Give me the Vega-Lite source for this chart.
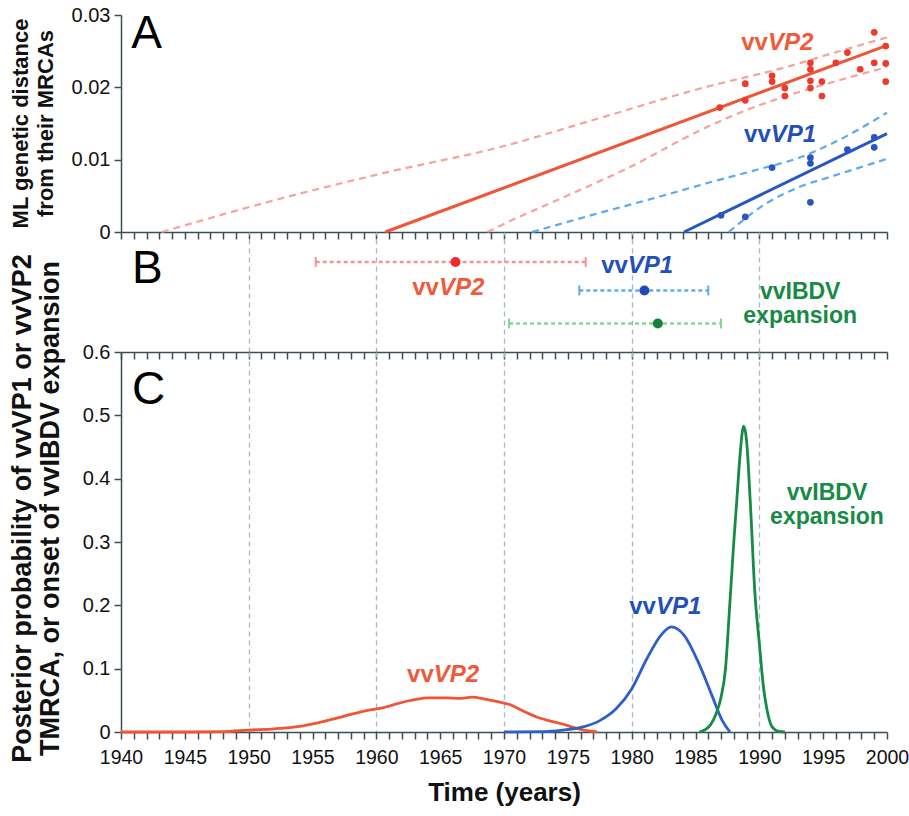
{
  "$schema": "https://vega.github.io/schema/vega-lite/v6.json",
  "padding": {"left": 7, "top": 5, "right": 2, "bottom": 5},
  "bounds": "flush",
  "spacing": 0,
  "config": {
    "view": {"stroke": null},
    "font": "Liberation Sans",
    "axis": {
      "domainColor": "#3b4e58", "tickColor": "#3b4e58", "domainWidth": 1.5, "tickWidth": 1.5, "ticks": true, "tickOpacity": 1,
      "labelFont": "Liberation Sans", "labelFontSize": 20, "labelColor": "#111111", "labelFlush": false, "labelOverlap": false,
      "titleFont": "Liberation Sans", "titleColor": "#111111", "grid": false
    },
    "text": {"font": "Liberation Sans"}
  },
  "datasets": {
    "ptsA": [
      {"series":"vvVP2","year":1986.9,"d":0.0172},{"series":"vvVP2","year":1988.9,"d":0.0205},{"series":"vvVP2","year":1988.9,"d":0.0182},
      {"series":"vvVP2","year":1991,"d":0.0216},{"series":"vvVP2","year":1991,"d":0.0208},{"series":"vvVP2","year":1992,"d":0.0199},
      {"series":"vvVP2","year":1992,"d":0.0188},{"series":"vvVP2","year":1994,"d":0.0234},{"series":"vvVP2","year":1994,"d":0.0225},
      {"series":"vvVP2","year":1994,"d":0.0209},{"series":"vvVP2","year":1994,"d":0.0199},{"series":"vvVP2","year":1994.9,"d":0.0208},
      {"series":"vvVP2","year":1994.9,"d":0.0188},{"series":"vvVP2","year":1996,"d":0.0234},{"series":"vvVP2","year":1996.9,"d":0.0248},
      {"series":"vvVP2","year":1997.9,"d":0.0225},{"series":"vvVP2","year":1999,"d":0.0276},{"series":"vvVP2","year":1999,"d":0.0234},
      {"series":"vvVP2","year":1999.9,"d":0.0257},{"series":"vvVP2","year":1999.9,"d":0.0233},{"series":"vvVP2","year":1999.9,"d":0.0208},
      {"series":"vvVP1","year":1987,"d":0.0023},{"series":"vvVP1","year":1988.9,"d":0.0021},{"series":"vvVP1","year":1991,"d":0.0089},
      {"series":"vvVP1","year":1994,"d":0.0103},{"series":"vvVP1","year":1994,"d":0.0095},{"series":"vvVP1","year":1994,"d":0.0041},
      {"series":"vvVP1","year":1996.9,"d":0.0114},{"series":"vvVP1","year":1999,"d":0.0131},{"series":"vvVP1","year":1999,"d":0.0117}
    ],
    "fitsA": [
      {"series":"vvVP2","year":1960.7,"d":0},{"series":"vvVP2","year":2000,"d":0.0258},
      {"series":"vvVP1","year":1984.1,"d":0},{"series":"vvVP1","year":2000,"d":0.0136}
    ],
    "bandsA": [
      {"series":"vvVP2","band":"up","year":1943.2,"d":0},{"series":"vvVP2","band":"up","year":1952.9,"d":0.0048},
      {"series":"vvVP2","band":"up","year":1960.7,"d":0.0082},{"series":"vvVP2","band":"up","year":1969.6,"d":0.0117},
      {"series":"vvVP2","band":"up","year":1977.4,"d":0.0157},{"series":"vvVP2","band":"up","year":1985.3,"d":0.0198},
      {"series":"vvVP2","band":"up","year":1992.3,"d":0.0229},{"series":"vvVP2","band":"up","year":1995.7,"d":0.0247},
      {"series":"vvVP2","band":"up","year":2000,"d":0.0269},
      {"series":"vvVP2","band":"lo","year":1968.7,"d":0},{"series":"vvVP2","band":"lo","year":1970.1,"d":0.0012},
      {"series":"vvVP2","band":"lo","year":1974.8,"d":0.0049},{"series":"vvVP2","band":"lo","year":1980,"d":0.0091},
      {"series":"vvVP2","band":"lo","year":1985.3,"d":0.014},{"series":"vvVP2","band":"lo","year":1988.9,"d":0.0168},
      {"series":"vvVP2","band":"lo","year":1992.3,"d":0.0189},{"series":"vvVP2","band":"lo","year":1995.7,"d":0.0207},
      {"series":"vvVP2","band":"lo","year":2000,"d":0.0228},
      {"series":"vvVP1","band":"up","year":1972.2,"d":0},{"series":"vvVP1","band":"up","year":1977,"d":0.0024},
      {"series":"vvVP1","band":"up","year":1982,"d":0.0048},{"series":"vvVP1","band":"up","year":1986,"d":0.0068},
      {"series":"vvVP1","band":"up","year":1990,"d":0.0087},{"series":"vvVP1","band":"up","year":1993,"d":0.0102},
      {"series":"vvVP1","band":"up","year":1996,"d":0.0125},{"series":"vvVP1","band":"up","year":2000,"d":0.0165},
      {"series":"vvVP1","band":"lo","year":1987.6,"d":0},{"series":"vvVP1","band":"lo","year":1990.5,"d":0.0039},
      {"series":"vvVP1","band":"lo","year":1993.1,"d":0.0062},{"series":"vvVP1","band":"lo","year":1995.7,"d":0.0077},
      {"series":"vvVP1","band":"lo","year":2000,"d":0.0101}
    ],
    "labA": [
      {"series":"vvVP2","year":1990.67,"d":0.0251,"pre":"vv","post":"VP2"},
      {"series":"vvVP1","year":1990.9,"d":0.0124,"pre":"vv","post":"VP1"}
    ],
    "errB": [
      {"series":"vvVP2","row":1,"year":1955.25,"hi":1976.4},
      {"series":"vvVP1","row":1.95,"year":1975.9,"hi":1986.0},
      {"series":"vvIBDV","row":3.05,"year":1970.4,"hi":1987.0}
    ],
    "midB": [
      {"series":"vvVP2","row":1,"year":1966.2},
      {"series":"vvVP1","row":1.95,"year":1981.0},
      {"series":"vvIBDV","row":3.05,"year":1982.05}
    ],
    "labB": [
      {"series":"vvVP2","year":1964.9,"row":2.1,"pre":"vv","post":"VP2"},
      {"series":"vvVP1","year":1979.7,"row":1.37,"pre":"vv","post":"VP1"}
    ],
    "labB2": [
      {"series":"vvIBDV","year":1993.2,"row":2.22,"text":"vvIBDV\nexpansion"}
    ],
    "post": [
      {"series":"vvVP2","year":1940,"p":0},{"series":"vvVP2","year":1945,"p":0},{"series":"vvVP2","year":1948,"p":0.0005},
      {"series":"vvVP2","year":1950,"p":0.003},{"series":"vvVP2","year":1952,"p":0.005},{"series":"vvVP2","year":1954,"p":0.009},
      {"series":"vvVP2","year":1955.5,"p":0.015},{"series":"vvVP2","year":1957.5,"p":0.025},{"series":"vvVP2","year":1959.5,"p":0.035},
      {"series":"vvVP2","year":1960.5,"p":0.038},{"series":"vvVP2","year":1961.5,"p":0.044},{"series":"vvVP2","year":1963,"p":0.051},
      {"series":"vvVP2","year":1964,"p":0.054},{"series":"vvVP2","year":1965.5,"p":0.054},{"series":"vvVP2","year":1966.5,"p":0.053},
      {"series":"vvVP2","year":1967.5,"p":0.055},{"series":"vvVP2","year":1968.5,"p":0.052},{"series":"vvVP2","year":1969.5,"p":0.048},
      {"series":"vvVP2","year":1970.5,"p":0.043},{"series":"vvVP2","year":1971.5,"p":0.033},{"series":"vvVP2","year":1972.5,"p":0.024},
      {"series":"vvVP2","year":1973.5,"p":0.018},{"series":"vvVP2","year":1974.5,"p":0.013},{"series":"vvVP2","year":1975.5,"p":0.007},
      {"series":"vvVP2","year":1976.5,"p":0.002},{"series":"vvVP2","year":1977.3,"p":0},
      {"series":"vvVP1","year":1970,"p":0},{"series":"vvVP1","year":1973,"p":0.0005},{"series":"vvVP1","year":1974.6,"p":0.003},
      {"series":"vvVP1","year":1976.2,"p":0.008},{"series":"vvVP1","year":1977.5,"p":0.018},{"series":"vvVP1","year":1978.8,"p":0.037},
      {"series":"vvVP1","year":1980,"p":0.068},{"series":"vvVP1","year":1981.2,"p":0.116},{"series":"vvVP1","year":1982.3,"p":0.153},
      {"series":"vvVP1","year":1983.1,"p":0.166},{"series":"vvVP1","year":1984.1,"p":0.153},{"series":"vvVP1","year":1985.2,"p":0.111},
      {"series":"vvVP1","year":1986.3,"p":0.057},{"series":"vvVP1","year":1987.1,"p":0.018},{"series":"vvVP1","year":1987.7,"p":0},
      {"series":"vvIBDV","year":1985.3,"p":0},{"series":"vvIBDV","year":1985.8,"p":0.004},{"series":"vvIBDV","year":1986.2,"p":0.012},
      {"series":"vvIBDV","year":1986.6,"p":0.028},{"series":"vvIBDV","year":1987.0,"p":0.055},{"series":"vvIBDV","year":1987.35,"p":0.1},
      {"series":"vvIBDV","year":1987.65,"p":0.19},{"series":"vvIBDV","year":1988.0,"p":0.3},{"series":"vvIBDV","year":1988.25,"p":0.37},
      {"series":"vvIBDV","year":1988.5,"p":0.44},{"series":"vvIBDV","year":1988.77,"p":0.483},{"series":"vvIBDV","year":1989.0,"p":0.46},
      {"series":"vvIBDV","year":1989.3,"p":0.36},{"series":"vvIBDV","year":1989.65,"p":0.22},{"series":"vvIBDV","year":1990.0,"p":0.14},
      {"series":"vvIBDV","year":1990.3,"p":0.075},{"series":"vvIBDV","year":1990.6,"p":0.035},{"series":"vvIBDV","year":1991.0,"p":0.008},
      {"series":"vvIBDV","year":1991.5,"p":0.001},{"series":"vvIBDV","year":1992,"p":0}
    ],
    "labC": [
      {"series":"vvVP2","year":1964.5,"p":0.079,"pre":"vv","post":"VP2"},
      {"series":"vvVP1","year":1981.9,"p":0.186,"pre":"vv","post":"VP1"}
    ],
    "labC2": [
      {"series":"vvIBDV","year":1995.3,"p":0.366,"text":"vvIBDV\nexpansion"}
    ],
    "letterA": [{"year":1940.8,"d":0.02537,"text":"A"}],
    "letterB": [{"year":1940.86,"row":1.7,"text":"B"}],
    "letterC": [{"year":1940.86,"p":0.518,"text":"C"}]
  },
  "vconcat": [
    {
      "width": 766, "height": 217,
      "encoding": {
        "x": {"field":"year","type":"quantitative","scale":{"domain":[1940,2000],"nice":false,"zero":false},
          "axis":{"orient":"bottom","values":[1940,1941,1942,1943,1944,1945,1946,1947,1948,1949,1950,1951,1952,1953,1954,1955,1956,1957,1958,1959,1960,1961,1962,1963,1964,1965,1966,1967,1968,1969,1970,1971,1972,1973,1974,1975,1976,1977,1978,1979,1980,1981,1982,1983,1984,1985,1986,1987,1988,1989,1990,1991,1992,1993,1994,1995,1996,1997,1998,1999,2000],
            "labels":false,"ticks":true,"tickSize":7,"tickWidth":1.5,"tickColor":"#3b4e58","tickOpacity":1,"title":null}},
        "y": {"field":"d","type":"quantitative","scale":{"domain":[0,0.03],"nice":false},
          "axis":{"values":[0,0.01,0.02,0.03],"labelExpr":"datum.value === 0 ? '0' : format(datum.value, '.2f')","ticks":true,"tickSize":7,"tickWidth":1.5,"tickColor":"#3b4e58","labelPadding":4,"labelOverlap":false,
            "title":["ML genetic distance","from their MRCAs"],"titleFontSize":22,"titleFontWeight":"bold","titleLineHeight":25,"titleX":-89,"titleY":108,"titleBaseline":"bottom","titleAlign":"center"}}
      },
      "layer": [
        {"data":{"name":"bandsA"},"mark":{"type":"line","strokeDash":[7,5],"strokeWidth":2.2,"interpolate":"monotone"},
          "encoding":{"detail":{"field":"band"},"color":{"field":"series","scale":{"domain":["vvVP2","vvVP1"],"range":["#f6a39b","#5aaaf0"]},"legend":null}}},
        {"data":{"name":"fitsA"},"mark":{"type":"line","strokeWidth":3},
          "encoding":{"color":{"field":"series","scale":{"domain":["vvVP2","vvVP1"],"range":["#f05535","#2757c0"]},"legend":null}}},
        {"data":{"name":"ptsA"},"mark":{"type":"circle","size":45,"opacity":1},
          "encoding":{"color":{"field":"series","scale":{"domain":["vvVP2","vvVP1"],"range":["#ee3a2a","#2a55c0"]},"legend":null}}},
        {"data":{"name":"labA"},"mark":{"type":"text","align":"right","baseline":"alphabetic","fontSize":24,"fontWeight":"bold"},
          "encoding":{"text":{"field":"pre"},"color":{"field":"series","scale":{"domain":["vvVP2","vvVP1"],"range":["#f05a38","#2350b8"]},"legend":null}}},
        {"data":{"name":"labA"},"mark":{"type":"text","align":"left","baseline":"alphabetic","fontSize":24,"fontWeight":"bold","fontStyle":"italic"},
          "encoding":{"text":{"field":"post"},"color":{"field":"series","scale":{"domain":["vvVP2","vvVP1"],"range":["#f05a38","#2350b8"]},"legend":null}}},
        {"data":{"name":"letterA"},"mark":{"type":"text","align":"left","baseline":"alphabetic","fontSize":46,"color":"#000000"},
          "encoding":{"text":{"field":"text"}}}
      ],
      "resolve": {"scale": {"color": "independent"}}
    },
    {
      "width": 766, "height": 120,
      "encoding": {
        "x": {"field":"year","type":"quantitative","scale":{"domain":[1940,2000],"nice":false,"zero":false},
          "axis":{"orient":"bottom","values":[1940,1941,1942,1943,1944,1945,1946,1947,1948,1949,1950,1951,1952,1953,1954,1955,1956,1957,1958,1959,1960,1961,1962,1963,1964,1965,1966,1967,1968,1969,1970,1971,1972,1973,1974,1975,1976,1977,1978,1979,1980,1981,1982,1983,1984,1985,1986,1987,1988,1989,1990,1991,1992,1993,1994,1995,1996,1997,1998,1999,2000],
            "labels":false,"ticks":true,"tickSize":7,"tickWidth":1.5,"tickColor":"#3b4e58","tickOpacity":1,"title":null,
            "grid":true,"gridColor":"#a3b8c8","gridDash":[5,4],"gridWidth":1.3,
            "gridOpacity":{"condition":{"test":"datum.value % 10 === 0 && datum.value > 1940 && datum.value < 2000","value":1},"value":0}}},
        "y": {"field":"row","type":"quantitative","scale":{"domain":[0,4],"reverse":true,"nice":false},"axis":null}
      },
      "layer": [
        {"data":{"name":"errB"},"mark":{"type":"rule","strokeDash":[4,3],"strokeWidth":2.5},
          "encoding":{"x2":{"field":"hi"},
            "color":{"field":"series","scale":{"domain":["vvVP2","vvVP1","vvIBDV"],"range":["#f29595","#62aaee","#88d296"]},"legend":null}}},
        {"data":{"name":"errB"},"transform":[{"fold":["year","hi"],"as":["end","year"]}],
          "mark":{"type":"point","shape":"M0,-1V1","size":100,"strokeWidth":2,"filled":false,"opacity":1},
          "encoding":{"color":{"field":"series","scale":{"domain":["vvVP2","vvVP1","vvIBDV"],"range":["#f29595","#62aaee","#88d296"]},"legend":null}}},
        {"data":{"name":"midB"},"mark":{"type":"circle","size":100,"opacity":1},
          "encoding":{"color":{"field":"series","scale":{"domain":["vvVP2","vvVP1","vvIBDV"],"range":["#ee2b2b","#2448b8","#13823a"]},"legend":null}}},
        {"data":{"name":"labB"},"mark":{"type":"text","align":"right","baseline":"alphabetic","fontSize":24,"fontWeight":"bold"},
          "encoding":{"text":{"field":"pre"},
            "color":{"field":"series","scale":{"domain":["vvVP2","vvVP1"],"range":["#f05a38","#2350b8"]},"legend":null}}},
        {"data":{"name":"labB"},"mark":{"type":"text","align":"left","baseline":"alphabetic","fontSize":24,"fontWeight":"bold","fontStyle":"italic"},
          "encoding":{"text":{"field":"post"},
            "color":{"field":"series","scale":{"domain":["vvVP2","vvVP1"],"range":["#f05a38","#2350b8"]},"legend":null}}},
        {"data":{"name":"labB2"},"mark":{"type":"text","align":"center","baseline":"alphabetic","fontSize":23,"fontWeight":"bold","color":"#178a45","lineBreak":"\n","lineHeight":24},
          "encoding":{"text":{"field":"text"}}},
        {"data":{"name":"letterB"},"mark":{"type":"text","align":"left","baseline":"alphabetic","fontSize":46,"color":"#000000"},
          "encoding":{"text":{"field":"text"}}}
      ],
      "resolve": {"scale": {"color": "independent"}}
    },
    {
      "width": 766, "height": 380,
      "encoding": {
        "x": {"field":"year","type":"quantitative","scale":{"domain":[1940,2000],"nice":false,"zero":false},
          "axis":{"orient":"bottom","values":[1940,1941,1942,1943,1944,1945,1946,1947,1948,1949,1950,1951,1952,1953,1954,1955,1956,1957,1958,1959,1960,1961,1962,1963,1964,1965,1966,1967,1968,1969,1970,1971,1972,1973,1974,1975,1976,1977,1978,1979,1980,1981,1982,1983,1984,1985,1986,1987,1988,1989,1990,1991,1992,1993,1994,1995,1996,1997,1998,1999,2000],
            "format":"d","labelExpr":"datum.value % 5 === 0 ? datum.label : ''","labelOverlap":false,"labelFlush":false,"labelFontSize":19.5,
            "ticks":true,"tickSize":7,"tickWidth":1.5,"tickColor":"#3b4e58","tickOpacity":1,"labelPadding":9,
            "grid":true,"gridColor":"#a3b8c8","gridDash":[5,4],"gridWidth":1.3,
            "gridOpacity":{"condition":{"test":"datum.value % 10 === 0 && datum.value > 1940 && datum.value < 2000","value":1},"value":0},
            "title":"Time (years)","titleFontSize":26,"titleFontWeight":"bold","titlePadding":13}},
        "y": {"field":"p","type":"quantitative","scale":{"domain":[0,0.6],"nice":false},
          "axis":{"values":[0,0.1,0.2,0.3,0.4,0.5,0.6],"labelExpr":"datum.value === 0 ? '0' : format(datum.value, '.1f')","ticks":true,"tickSize":7,"tickWidth":1.5,"tickColor":"#3b4e58","labelPadding":4,"labelOverlap":false,
            "title":["Posterior probability of vvVP1 or vvVP2","TMRCA, or onset of vvIBDV expansion"],"titleFontSize":27,"titleFontWeight":"bold","titleLineHeight":28,
            "titleX":-85,"titleY":156,"titleBaseline":"bottom","titleAlign":"center"}}
      },
      "layer": [
        {"data":{"name":"post"},"mark":{"type":"line","strokeWidth":2.8,"interpolate":"monotone"},
          "encoding":{"color":{"field":"series","scale":{"domain":["vvVP2","vvVP1","vvIBDV"],"range":["#f05535","#2e5fc8","#178a45"]},"legend":null}}},
        {"data":{"name":"labC"},"mark":{"type":"text","align":"right","baseline":"alphabetic","fontSize":24,"fontWeight":"bold"},
          "encoding":{"text":{"field":"pre"},
            "color":{"field":"series","scale":{"domain":["vvVP2","vvVP1"],"range":["#f05a38","#2350b8"]},"legend":null}}},
        {"data":{"name":"labC"},"mark":{"type":"text","align":"left","baseline":"alphabetic","fontSize":24,"fontWeight":"bold","fontStyle":"italic"},
          "encoding":{"text":{"field":"post"},
            "color":{"field":"series","scale":{"domain":["vvVP2","vvVP1"],"range":["#f05a38","#2350b8"]},"legend":null}}},
        {"data":{"name":"labC2"},"mark":{"type":"text","align":"center","baseline":"alphabetic","fontSize":23,"fontWeight":"bold","color":"#178a45","lineBreak":"\n","lineHeight":24},
          "encoding":{"text":{"field":"text"}}},
        {"data":{"name":"letterC"},"mark":{"type":"text","align":"left","baseline":"alphabetic","fontSize":46,"color":"#000000"},
          "encoding":{"text":{"field":"text"}}}
      ],
      "resolve": {"scale": {"color": "independent"}}
    }
  ]
}
